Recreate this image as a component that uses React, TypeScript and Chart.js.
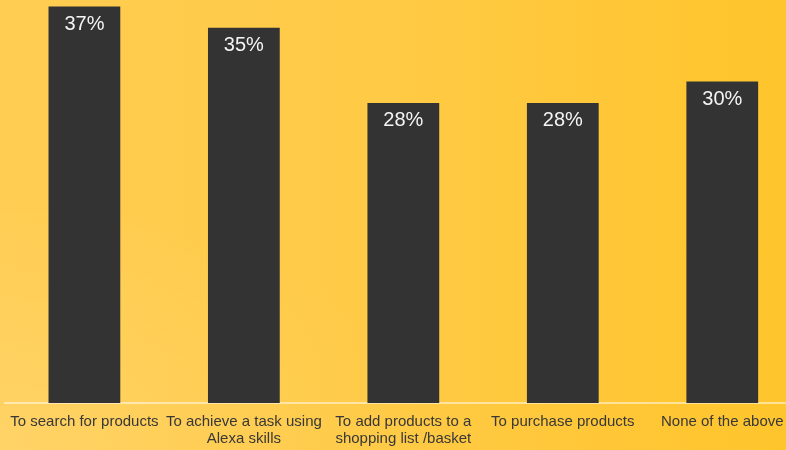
import React, { useEffect, useRef } from "react";
import { Chart, registerables } from "chart.js";

Chart.register(...registerables);

const categories: string[][] = [
  ["To search for products"],
  ["To achieve a task using", "Alexa skills"],
  ["To add products to a", "shopping list /basket"],
  ["To purchase products"],
  ["None of the above"],
];
const values: number[] = [37, 35, 28, 28, 30];

const FONT = '"Liberation Sans", Arial, sans-serif';

const barLabels = {
  id: "barLabels",
  afterDatasetsDraw(chart: any) {
    const ctx = chart.ctx;
    const meta = chart.getDatasetMeta(0);
    ctx.save();
    ctx.fillStyle = "#f4f4f4";
    ctx.font = `20px ${FONT}`;
    ctx.textAlign = "center";
    ctx.textBaseline = "middle";
    meta.data.forEach((bar: any, i: number) => {
      ctx.fillText(`${values[i]}%`, bar.x, bar.y + 18);
    });
    ctx.restore();
  },
};

export default function App() {
  const ref = useRef<HTMLCanvasElement | null>(null);
  useEffect(() => {
    if (!ref.current) return;
    const chart = new Chart(ref.current, {
      type: "bar",
      data: {
        labels: categories,
        datasets: [
          {
            data: values,
            backgroundColor: "#333333",
            barPercentage: 0.45,
            categoryPercentage: 1,
          },
        ],
      },
      options: {
        responsive: false,
        animation: false,
        layout: { padding: { left: 2, right: 4, top: 0, bottom: 0 } },
        plugins: { legend: { display: false }, tooltip: { enabled: false } },
        scales: {
          x: {
            grid: { display: false, drawTicks: false },
            border: { display: true, color: "rgba(255,255,255,0.5)", width: 2 },
            ticks: {
              color: "#383838",
              font: { family: FONT, size: 15, lineHeight: 1.13 },
              padding: 10,
              maxRotation: 0,
              autoSkip: false,
            },
            afterFit(scale: any) {
              scale.height = 47;
            },
          },
          y: {
            display: false,
            min: 0,
            max: 37.6,
          },
        },
      },
      plugins: [barLabels],
    });
    return () => chart.destroy();
  }, []);

  return (
    <div
      style={{
        position: "fixed",
        left: 0,
        top: 0,
        width: 786,
        height: 450,
        overflow: "hidden",
        background:
          "radial-gradient(ellipse 420px 260px at 0% 100%, rgba(255,255,255,0.12), rgba(255,255,255,0) 100%), linear-gradient(90deg, #FFCD52 0%, #FFCA45 50%, #FFC52C 100%)",
      }}
    >
      <canvas ref={ref} width={806} height={450} style={{ display: "block" }} />
    </div>
  );
}
